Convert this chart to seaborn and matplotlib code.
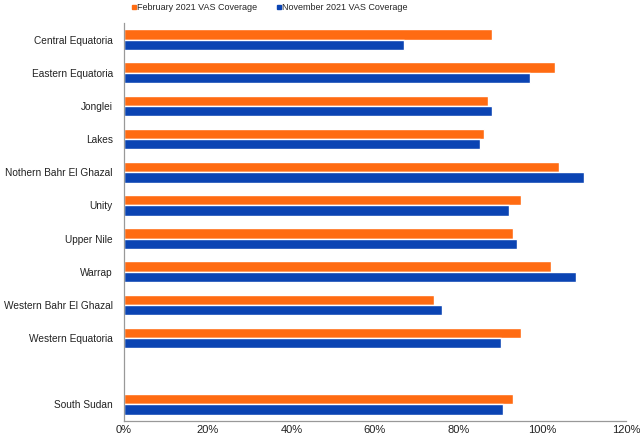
import numpy as np
import pandas as pd
import matplotlib
matplotlib.use("Agg")
import matplotlib.pyplot as plt
from matplotlib.lines import Line2D
from matplotlib.ticker import PercentFormatter
import seaborn as sns

# chart data (coverage in %)
states = [
    "Central Equatoria", "Eastern Equatoria", "Jonglei", "Lakes",
    "Nothern Bahr El Ghazal", "Unity", "Upper Nile", "Warrap",
    "Western Bahr El Ghazal", "Western Equatoria", " ", "South Sudan",
]
feb_2021 = [88, 103, 87, 86, 104, 95, 93, 102, 74, 95, np.nan, 93]
nov_2021 = [67, 97, 88, 85, 110, 92, 94, 108, 76, 90, np.nan, 90.5]
series = ["February 2021 VAS Coverage", "November 2021 VAS Coverage"]
colors = ["#FF6B12", "#0B44B3"]

df = pd.concat([
    pd.DataFrame({"state": states, "coverage": feb_2021, "period": series[0]}),
    pd.DataFrame({"state": states, "coverage": nov_2021, "period": series[1]}),
], ignore_index=True)

sns.set_style("white")
plt.rcParams["font.family"] = ["Liberation Sans", "DejaVu Sans"]

fig = plt.figure(figsize=(6.4, 4.37), dpi=100)
ax = fig.add_axes([124 / 640, 1 - 421 / 437, (626 - 124) / 640, (421 - 23) / 437])

sns.barplot(data=df, y="state", x="coverage", hue="period", order=states,
            hue_order=series, palette=colors, width=0.62, saturation=1,
            orient="h", ax=ax, legend=False)

ax.set_xlim(0, 120)
ax.set_xticks(range(0, 121, 20))
ax.xaxis.set_major_formatter(PercentFormatter(decimals=0))
ax.set_xlabel("")
ax.set_ylabel("")
ax.tick_params(axis="both", length=0, colors="#222222")
ax.tick_params(axis="x", pad=3, labelsize=8)
ax.tick_params(axis="y", pad=8, labelsize=7.3)

for side in ["top", "right"]:
    ax.spines[side].set_visible(False)
for side in ["left", "bottom"]:
    ax.spines[side].set_color("#999999")
    ax.spines[side].set_linewidth(0.9)

handles = [Line2D([], [], marker="s", ls="", color=c, markersize=3.5) for c in colors]
fig.legend(handles, series, loc="center", bbox_to_anchor=(269 / 640, 1 - 8 / 437),
           ncol=2, frameon=False, fontsize=6.5, handletextpad=0.05,
           columnspacing=2.0, handlelength=0.7, borderpad=0.1)

fig.savefig("out.png", dpi=100)
